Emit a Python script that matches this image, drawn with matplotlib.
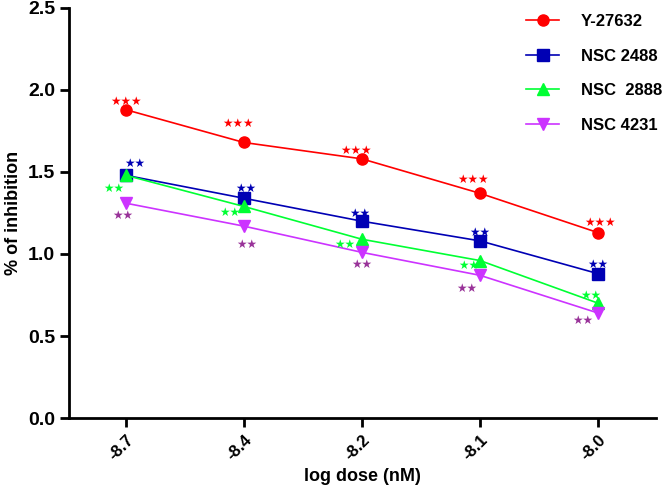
import numpy as np
import matplotlib
matplotlib.use('Agg')
import matplotlib.pyplot as plt

plt.rcParams['font.family'] = ['Liberation Sans', 'DejaVu Sans']
plt.rcParams['font.weight'] = 'bold'

doses = ['-8.7', '-8.4', '-8.2', '-8.1', '-8.0']
names = ['Y-27632', 'NSC 2488', 'NSC  2888', 'NSC 4231']
y27632 = [1.88, 1.68, 1.58, 1.37, 1.13]
nsc2488 = [1.48, 1.34, 1.20, 1.08, 0.88]
nsc2888 = [1.48, 1.29, 1.09, 0.96, 0.70]
nsc4231 = [1.31, 1.17, 1.01, 0.87, 0.64]
stars = ['\u2605\u2605\u2605', '\u2605\u2605', '\u2605\u2605', '\u2605\u2605']

series = [y27632, nsc2488, nsc2888, nsc4231]
colors = ['#ff0000', '#0000b4', '#00ff33', '#cc33ff']
star_colors = ['#ff0000', '#0000b4', '#00ff33', '#993399']
markers = ['o', 's', '^', 'v']
# label offsets in pixels for each series / point
offsets = [
    [(0, 8), (-6, 19), (-6, 8), (-7, 14), (2, 10)],
    [(9, 12), (2, 10), (-2, 8), (0, 8), (0, 9)],
    [(-12, -13), (-14, -6), (-17, -5), (-11, -5), (-7, 8)],
    [(-3, -12), (3, -18), (0, -12), (-13, -13), (-15, -7)],
]

fig = plt.figure(figsize=(6.66, 4.98), dpi=100)
ax = fig.add_axes([0.1036, 0.1606, 0.8814, 0.8234])
x = np.arange(len(doses))

for vals, name, c, sc, m, st, offs in zip(series, names, colors, star_colors,
                                          markers, stars, offsets):
    ax.plot(x, vals, color=c, marker=m, markersize=8, linewidth=1.2, label=name)
    for xi, yi, off in zip(x, vals, offs):
        ax.annotate(st, (xi, yi), xytext=off, textcoords='offset pixels',
                    ha='center', va='center', color=sc, fontsize=8.5,
                    family=['DejaVu Sans'])

ax.set_xlim(-0.48, 4.49)
ax.set_ylim(0, 2.5)
ax.set_yticks([0, 0.5, 1.0, 1.5, 2.0, 2.5])
ax.set_yticklabels(['0.0', '0.5', '1.0', '1.5', '2.0', '2.5'], fontsize=14)
ax.set_xticks(x)
ax.set_xticklabels(doses, rotation=45, ha='right', rotation_mode='anchor', fontsize=12)
ax.spines['top'].set_visible(False)
ax.spines['right'].set_visible(False)
ax.spines['left'].set_linewidth(2)
ax.spines['bottom'].set_linewidth(2)
ax.tick_params(width=2, length=6.5, direction='out')
ax.set_xlabel('log dose (nM)', fontsize=13, fontweight='bold')
ax.set_ylabel('% of inhibition', fontsize=13, fontweight='bold')

leg = ax.legend(loc='upper left', frameon=False, fontsize=12, labelspacing=1.18,
                handlelength=2.0, handletextpad=1.3, borderpad=0.0,
                borderaxespad=0.0, bbox_to_anchor=(0.79, 0.972),
                bbox_transform=fig.transFigure)

fig.savefig('out.png', dpi=100)
